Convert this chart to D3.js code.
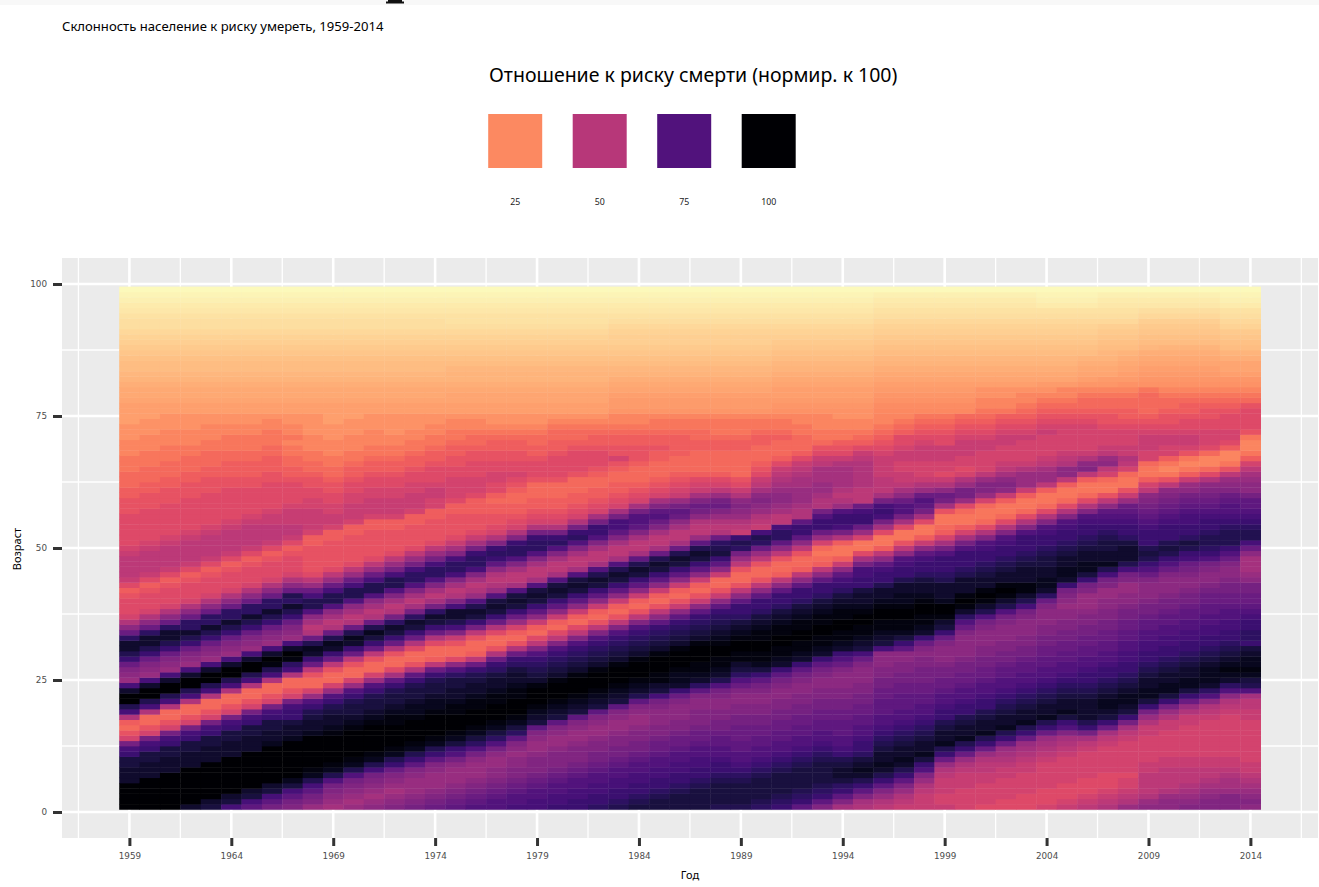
<!DOCTYPE html>
<html>
<head>
<meta charset="utf-8">
<script src="https://cdnjs.cloudflare.com/ajax/libs/d3/7.8.5/d3.min.js"></script>
<style>
body { margin: 0; background: #fff; font-family: "Noto Sans", "Open Sans", sans-serif; }
</style>
</head>
<body>
<script>
var yearTicks = [1959, 1964, 1969, 1974, 1979, 1984, 1989, 1994, 1999, 2004, 2009, 2014];
var ageTicks = [0, 25, 50, 75, 100];
var legendValues = [25, 50, 75, 100];
var firstYear = 1959;

// one line per year, 1959..2014. one char per age: ages 1-50 | ages 51-99
// 0-9a-z = 0..100 in 35 steps, A-Z = 0..25 in steps of 1 (for the pale old ages)
var risk = [
"zzzzz wwwvv srnfd bciru zzwrk lmosu wwtol ifeee dcegh hhhgf|eeeee edddc cbbba aa999 88877 UUTSS RQPOO NMLKJ IHHGF EDCB",
"zzzzz zwwwv vsrnf dbbir uzzwr klmos uwwto lifee edceg hhhhg|feeee eeddd ccbbb aaa99 98887 UUTSS RQPOO NMLKJ IHHGF EDCB",
"zzzzz zzwww vvsrn fdbbi ruzzw rklmo suwwt olife eedce ghhhh|gfeee eeedd dccbb baaa9 99888 UUTSS RQPOO NMLKJ IHHGF EDCB",
"wzzzz zzzww wvvsr nfdbb iruzz wrklm osuwt tolif eeedc eghhh|hgfee eeeed ddccb bbaa9 99888 UUTSS RQPOO NMLKJ IHHGF EDCB",
"vwzzz zzzzw wwvvs rnfdb biruz zwrkl mosuw ttoli feeed ceghh|hhgfe eeeee dddcc bbbaa 99988 UUTSS RQPOO NMLKJ IHHGF EDCB",
"rvwzz zzzzz wwwvv srnfd bbiru zzwrk lmosu wttol ifeee dcegh|hhhgf eeeee eddcc cbbaa a9988 UUTSS RQPOO NMLKJ IHHGF EDCB",
"prvwz zzzzz zwwwv vsrnf dbbir uzzwr klmos uwtto lifee edceg|hhhhg feeee eddcc cbbaa a9988 UUTSS RQPOO NMLKJ IHHGF EDCB",
"nprvw zzzzz zzxww vvsrn fdbbi ruyzw rklmo suwtt olife eedce|ghhhg gfeee eeddc ccbba aa998 UUTSS RQPOO NMLKJ IHHGF EDCB",
"mnprv xzzzz zzzxw wvssr nfdbb irtyz wrklm osuwt uolif eeedc|eghhg ggfee eedcc bbaa9 a9988 UUTSS RQPOO NMLKJ IHHGF EDCB",
"kmnpr uxyzz zzzzx wwvus qkfbb dhosw xuoih jlquu rokhe ddddd|ccfgg ggffe eddcb baa99 98888 UUTSS RQPOO NMLKJ IHHGF EDCB",
"jklmn quxyz zzzzy xwwvu sqkfb bdhos wxuoi hjlqu urokh edddd|dccfg gffee ddcbb aa999 88877 UUTSS RQPOO NMLKJ IHHGF EDCB",
"kjklm nquxy zzzzz yxwvv usqkf bbdho swxuo ihjlq uurok heddd|ddccf gggff eedcc baa99 98887 UUTSS RQPOO NMLKJ IHHGF EDCB",
"lkjkl mnrux yzzzz zyxwv vusqk fbbdh osvxu oihjl quuro khedd|dddcc fgggf feedc cbaa9 99888 UUTSS RQPOO NMLKJ IHHGF EDCB",
"mlkjk lmosu xyzzz zyyxw vvusp jebbd iosvw tnihj mquur nkhed|dddcc fgggf feedc cbaa9 98888 UUTSS RQPOO NMLKJ IHHGF EDCB",
"nmlkk klmps uxyzz zzyxx wvvus pidbb eiosv wtnjh jmqtt rnkhe|ddddc cfggg ffeed ccbaa 99888 UUTSS RQPOO NMLKJ IHHGF EDCB",
"onmlk kklmp suxyz zzzyx xwvvu sohcb beios vwtnj hjmqt trnkh|edddd ccffg gfeee dccba a9988 UUTSS RQPOO NMLKJ IHHGF EDCB",
"ponml kkkln qsvxy zzzyy xwwvv tqleb bdgmr uwwrm ihjmr ttrmj|geddd dccef fffee ddccb aa998 UUTTS RQQPO NMLKJ IHGGF EDCB",
"qponm lkkkl nqtvx yzzzy yxwwv usohc bbdhn svwuq kihjm rttsn|jgedd dccce fffee eddcb ba998 UUTTS RQQPO NMLKJ IHGGF EDCB",
"qqpon mllkk lnqtv xyzzz yyxww vtsoi dbbei osvwv qkihi lpsts|mifed dccbc eeffe eddcc ba988 UUTTS RQQPO NMLKJ IHGGF EDCB",
"rqqpo nmmll klmpt vxyzz zyyxw wvtso idbcf kosvw vqjhh jmqtt|smife dccbb cdefe eddcc ba988 UUTTS RQQPO NMLKJ IHGGF EDCB",
"rrqqp onmmm lkklm pvwxy zzzyw vutsq mhebc glpsv wvqjh hjmqt|tsnif edccb bbdee edccb ba988 UUTTS RQQPO NMLKJ IHGGF EDCB",
"srrqq ponmm mlkkl mpvwx yzzzy wvuts qmheb cglps vwvqj hhjmq|tsnif edccb bbdee eedcc bba98 UUTTS RQQPO NMLKJ IHGGF EDCB",
"ssrrq qponm mmlkk lmpvw xyzzz ywvut sqmhe bcglp svwvq jhhjm|qtsni fedcc bbbde eeedc bba98 UUTTS RQQPO NMLKJ IHGGF EDCB",
"tssrr qqpon nmmlk klmpv wxyzz zywvu tsqmh dbcgl psvwu qjhhj|mqssn jfedc cbbcd eeedc cba98 UUTTS RQQPO NMLKJ IHGGF EDCB",
"utssr rqqpo nnmml kklmp vwxyz zzywv utsqm hdbcg lpsvw uqjhh|jmprr njfed ccbbc dfddc cba99 WVVUT SRQPO NMLKK JIHGF EDCB",
"vutss rrqqp onnmm lkklm puwxy zzzyw vutsq mhdbc glpsv wupjh|hjmpq qnjfe dcbbb cdddc cba99 WVVUT SRQPO NMLKK JIHGF EDCB",
"vvuts srrqq poonm mlllm nrvwy yzzzy wvuts plhdb cglps vwuoj|hhjmo qpmjf edcbb bccdc cbaa9 WVVUT SRQPO NMLKK JIHGF EDCB",
"vvvut ssrrq qpoon mmlll moswx xyzzz ywvut splgd bcglp svwuo|jhhjl opnkg fedcb bbccc cbaa9 WVVUT SRQPO NMLKK JIHGF EDCB",
"vvvvu tssrr qqpoo nmmml lmptw xyyzz zywvu tsplg dbcgl psvwu|pkhhi lnomj gfecb bbbcc bbaa9 WVVUT SRQPO NMLKK JIHGF EDCB",
"uvvvv utssr qqppo nnmml lmnqu wxyyz zyxwv utspl gdbbg lpsvu|toihi kmonk hfecb bbbcc baaa9 WVVUT SRQPO NMLKK JIHGF EDCB",
"uvvvv utsrq qppoo onnmm llmoq tvwyy zzyxw vtssp lhdbb dhknt|usghi klmli gedbb bbbcc baaa9 WVVUT SRQPO NMLKK JIHGF EDCB",
"tuvvv vutsr qqppo onnmm llmnp svxyy zzyyx wvtss plhdb bdhko|turgh iklml jhged cbbbc cbaa9 WVVUT SRQPO NMLKK JIHGF EDCB",
"stuvv vvuts rqqpp oonnm mllmn pswxy yzzyy xwvts splhc bbdhl|pttrh hjkll kjihg ecbbb cbaa9 XWVUU TSRQP ONMLK JIHGF EDCB",
"pstuv vvvut srqqp poonn mmllm npswx yyzzy yxwvt ssplh cbbdh|lpssp iijkk kjjih gecbb baa99 XWVUU TSRQP ONMLK JIHGF EDCB",
"mpstu vvvvu tsrqq ppoon nmmll mnpsw xyyzz yyxwv tsspl hcbab|fkoss qniij kkjjj hgedb aa999 XWVUU TSRQP ONMLK JIHGF EDCB",
"jmpst vwwvu srqqp ppoon nmmll lmoqs wxyyz zyyxw vtsrp lgcaa|cinrs sqkih ijjjj igedc aa998 XWVUU TSRQP ONMLK JIHGF EDCB",
"ijmps uwxwv tssrq qppoo nnmml llmor vwxyy zzyxw wvssr rnjea|afkos srohh hiiii ihgec ba998 XWVUU TSRQP ONMLK JIHGF EDCB",
"hikmp suwxw wvuts rqqpp poonn mmlll rvwxy yzzyx wwuss rplhc|aaejn rsrnj hhhgg ggfed cba99 ZYXWV UTSRQ PONML KJIHG FEDB",
"ghikm psuwx wwvut srqqp ppoon nmmll psvxy yzzyx xwwus srqlh|daaej nqqol jhggf fggfe ecba9 ZYXWV UTSRQ PONML KJIHG FEDB",
"ggghi kmqsv xwwvu tsrqq ppoon nnmml moswx yyzzy xwwvt ssrpl|gcaae jnpqo kigff fgggf edcba ZYXWV UTSRQ PONML KJIHG FEDB",
"gffgg ghiko suxww vussr qqpoo nnmll lmosv wyzzx wwwut sssqn|jfcba adjno ligef fggge edcba ZYXWV UTSRQ PONML KJIHG FEDB",
"ffffg gghik osuxw wvuss rqqpo onnml lllmo qtwyz ywwwu tsssq|njfca abekn nkife ffggg fedcb ZYXWV UTSRQ PONML KJIHG FEDB",
"effff gghhi kosux wwvus srqqp oonnm mlllm nquwy zywwv utssr|qmieb aabfk mmkhf fffgg fedcb a9988 UTSRQ PONML KJIHG FEDB",
"eefff fgghi jkosu xwwvu tsrqq pponn mmlll mnquw yzyww vutss|rqmie baacg lmljh gfffg gfedc a9988 UTSRQ PONML KJIHG FEDB",
"eeeff ffggh ijkos uxwwv utsrq qppon nmmll lmnru wyyww wvuts|ssqmi ebaac gkkki gffff gfedc ba998 UTSRQ PONML KJIHG FEDB",
"feeef ffffg hijko suxww vutsr qqppo onnmm lllmo twxxw wvvut|ssrqm iebaa chkkj hgfff fgfed cba98 VTSRQ PONML KJIHG EDCB",
"gfeee fffff ghijm qsvxw wvuts rqqpp oonnm mllkl mnswx xwwvu|tssrq mieba achll ihgff fffed cba99 VTSRQ PONML KJIHG EDCB",
"hgfee effff fghjn suwww wvuts srqqp poonn mmlkk kmnsv xxwwv|utssr qmieb aachm ligff fffed cbba9 WUTSR QONML KJIHG EDCB",
"ihgfe eefff ffghj osvwx xwvut ssrqq ppoon nmmll kkmnr uxwwv|vutsr qplhd aabfh lkhgf ffedd cbba9 WVTSR QPONM LKIHG FEDB",
"kihgf fefff fffgh jnsvw xxwvu tssrr qqppo onnml lkkmn ruwww|vtssr qpokg daabf higgf ffedc cbba9 XVUTS RQONM LKIHG FEDB",
"lkihh hhggf ffffg gikns vxxww vutss rrqqp ponnm lllmo qsuvu|sssrq ponml hfcaa bffgg gfedc bbbba XWVUT SRPON MLKIH FEDB",
"llkih hhhgg fffff ggikn svxxw wvuts srrqq pponn mlllm oqsuv|usssr qponm lhda9 acffg gfedd cbba9 XWVUT SRQON MLKIH FEDB",
"mlkji hhhgg fffff fggik osvxx wwvut ssrrq qppon nmllm norsu|vtssr rqpon lkgca 9adfg gfeed ccba9 XWVUT SRQON MLKIH FEDB",
"mmlkj ihhgg fffff ffghi lqtwx xxwvu tssrr qqppo onmll mnqst|uutss rqpon mlieb 99bef ffeed dcba9 XWVUT SRQON MLKIH FEDB",
"mmmkj jihgg fffff fffgh ilqtw xyxwv utssr rqqpo onnml lmoqs|uuuts rqqpo mlkhd a99ce ffeee dcba9 XWUTT RQONM LJIHG EDCB",
"lmlkj ihggf fffff ffggh hjquv xyxxw vstts srqpo onnlk jjjlo|ruuts rqppn llkjh fca99 adeee edba9 XWUTT RQONM LJIHG EDCB"
];

function decode(c) {
	if (c >= "A" && c <= "Z") return c.charCodeAt(0) - 65;
	return parseInt(c, 36) / 35 * 100;
}

// turn the strings into cells
var cells = [];
risk.forEach(function(row, i) {
	row.replace(/[ |]/g, "").split("").forEach(function(c, j) {
		cells.push({year: firstYear + i, age: j + 1, value: decode(c)});
	});
});

var width = 1319, height = 887;
var panel = {left: 62, right: 1318, top: 258, bottom: 838};

var x = d3.scaleLinear().domain([1959, 2014]).range([129.4, 1250.4]);
var y = d3.scaleLinear().domain([0, 100]).range([812, 284]);
var color = d3.scaleSequential(function(t) { return d3.interpolateMagma(1 - t); }).domain([0, 100]);

var svg = d3.select("body").append("svg")
	.attr("width", width).attr("height", height)
	.style("display", "block");

// strip at the very top of the screenshot
svg.append("rect").attr("x", 0).attr("y", 0).attr("width", width).attr("height", 5).attr("fill", "#f8f8f8");
svg.append("path").attr("d", "M388,0H402V1.5H404V3.5H386V1.5H388Z").attr("fill", "#111");

svg.append("text").attr("x", 62).attr("y", 31)
	.attr("font-size", 13.1).attr("fill", "#000")
	.text("Склонность население к риску умереть, 1959-2014");

// legend
svg.append("text").attr("x", 489).attr("y", 82)
	.attr("font-size", 19.5).attr("fill", "#000")
	.text("Отношение к риску смерти (нормир. к 100)");

var legendX = d3.scaleLinear().domain([25, 100]).range([515.2, 768.7]);

svg.selectAll("rect.key")
	.data(legendValues).enter().append("rect")
	.attr("class", "key")
	.attr("x", d => legendX(d) - 27)
	.attr("y", 114)
	.attr("width", 54)
	.attr("height", 54)
	.attr("fill", d => color(d));

svg.selectAll("text.key")
	.data(legendValues).enter().append("text")
	.attr("class", "key")
	.attr("x", d => legendX(d))
	.attr("y", 205)
	.attr("text-anchor", "middle")
	.attr("font-size", 8.8)
	.attr("fill", "#222")
	.text(d => d);

// panel and grid
svg.append("rect")
	.attr("x", panel.left).attr("y", panel.top)
	.attr("width", panel.right - panel.left).attr("height", panel.bottom - panel.top)
	.attr("fill", "#ebebeb");

var minorYears = yearTicks.map(d => d - 2.5).concat([2016.5]);
var minorAges = ageTicks.slice(0, 4).map(d => d + 12.5);

svg.selectAll("line.minorx").data(minorYears).enter().append("line")
	.attr("x1", d => x(d)).attr("x2", d => x(d))
	.attr("y1", panel.top).attr("y2", panel.bottom)
	.attr("stroke", "#fff").attr("stroke-width", 1.3);
svg.selectAll("line.minory").data(minorAges).enter().append("line")
	.attr("y1", d => y(d)).attr("y2", d => y(d))
	.attr("x1", panel.left).attr("x2", panel.right)
	.attr("stroke", "#fff").attr("stroke-width", 1.3);
svg.selectAll("line.majorx").data(yearTicks).enter().append("line")
	.attr("x1", d => x(d)).attr("x2", d => x(d))
	.attr("y1", panel.top).attr("y2", panel.bottom)
	.attr("stroke", "#fff").attr("stroke-width", 2.6);
svg.selectAll("line.majory").data(ageTicks).enter().append("line")
	.attr("y1", d => y(d)).attr("y2", d => y(d))
	.attr("x1", panel.left).attr("x2", panel.right)
	.attr("stroke", "#fff").attr("stroke-width", 2.6);

// heat map
svg.append("g").selectAll("rect")
	.data(cells).enter().append("rect")
	.attr("x", d => x(d.year - 0.5))
	.attr("y", d => y(d.age + 0.5))
	.attr("width", x(1) - x(0) + 0.4)
	.attr("height", y(0) - y(1) + 0.4)
	.attr("fill", d => color(d.value));

// axes
var xAxis = d3.axisBottom(x).tickValues(yearTicks).tickFormat(d3.format("d")).tickSize(8).tickPadding(7);
var yAxis = d3.axisLeft(y).tickValues(ageTicks).tickSize(9).tickPadding(6);

var gx = svg.append("g").attr("transform", "translate(0," + panel.bottom + ")").call(xAxis);
var gy = svg.append("g").attr("transform", "translate(" + panel.left + ",0)").call(yAxis);

[gx, gy].forEach(function(g) {
	g.select(".domain").remove();
	g.selectAll(".tick line").attr("stroke", "#333").attr("stroke-width", 3);
	g.selectAll(".tick text").attr("fill", "#4d4d4d").attr("font-size", 8.8)
		.attr("font-family", "'DejaVu Sans', 'Noto Sans', sans-serif");
});

svg.append("text").attr("x", 690).attr("y", 879)
	.attr("text-anchor", "middle").attr("font-size", 11).attr("fill", "#000")
	.text("Год");

svg.append("text")
	.attr("transform", "translate(21,549) rotate(-90)")
	.attr("text-anchor", "middle").attr("font-size", 11).attr("fill", "#000")
	.text("Возраст");
</script>
</body>
</html>
